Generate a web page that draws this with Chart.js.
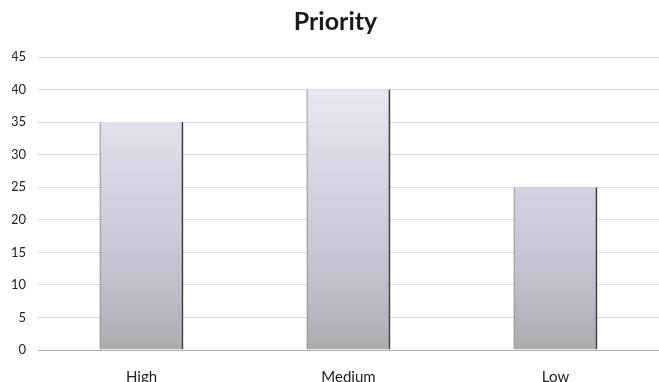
<!DOCTYPE html>
<html>
<head>
<meta charset="utf-8">
<script src="https://cdn.jsdelivr.net/npm/chart.js@4/dist/chart.umd.min.js"></script>
<style>
  html, body { margin: 0; padding: 0; background: #ffffff; }
  #wrap { width: 659px; height: 382px; position: relative; }
</style>
</head>
<body>
<div id="wrap"><canvas id="c"></canvas></div>
<script>
// Priority counts per category
const categories = ['High', 'Medium', 'Low'];
const counts = [35, 40, 25];
const yTicks = [0, 5, 10, 15, 20, 25, 30, 35, 40, 45];

// Soft grey-lavender shading for each bar, lighter at the top
function barFill(ctx) {
  const area = ctx.chart.chartArea;
  if (!area) return '#c4c3cf';
  const g = ctx.chart.ctx.createLinearGradient(0, area.top, 0, area.bottom);
  g.addColorStop(0, '#efedf4');
  g.addColorStop(0.35, '#dad8e6');
  g.addColorStop(0.7, '#c6c4d4');
  g.addColorStop(1, '#acacb0');
  return g;
}

new Chart(document.getElementById('c'), {
  type: 'bar',
  data: {
    labels: categories,
    datasets: [{
      label: 'Priority',
      data: counts,
      backgroundColor: barFill,
      borderColor: '#3a3a3a',
      borderWidth: { left: 1, right: 2, top: 0, bottom: 0 },
      borderSkipped: false,
      barPercentage: 0.405,
      categoryPercentage: 1
    }]
  },
  options: {
    responsive: true,
    maintainAspectRatio: false,
    animation: false,
    layout: { padding: { top: 0, right: 0, left: 12, bottom: 0 } },
    plugins: {
      legend: { display: false },
      tooltip: { enabled: false },
      title: {
        display: true,
        text: 'Priority',
        color: '#1a1a1a',
        font: { family: 'Lato', size: 25, weight: 'bold' },
        padding: { top: 7, bottom: 20 }
      }
    },
    scales: {
      x: {
        grid: { display: false },
        border: { display: true, color: '#b0b0b0' },
        ticks: {
          color: '#222',
          font: { family: 'Lato', size: 15 },
          padding: 10
        },
        afterFit: s => { s.height = 32; }
      },
      y: {
        min: 0,
        max: 45,
        afterBuildTicks: s => { s.ticks = yTicks.map(v => ({ value: v })); },
        grid: { color: '#dadada', drawTicks: false },
        border: { display: false },
        ticks: {
          color: '#222',
          font: { family: 'Lato', size: 13 },
          padding: 12
        },
        afterFit: s => { s.width = 26; }
      }
    }
  }
});
</script>
</body>
</html>
